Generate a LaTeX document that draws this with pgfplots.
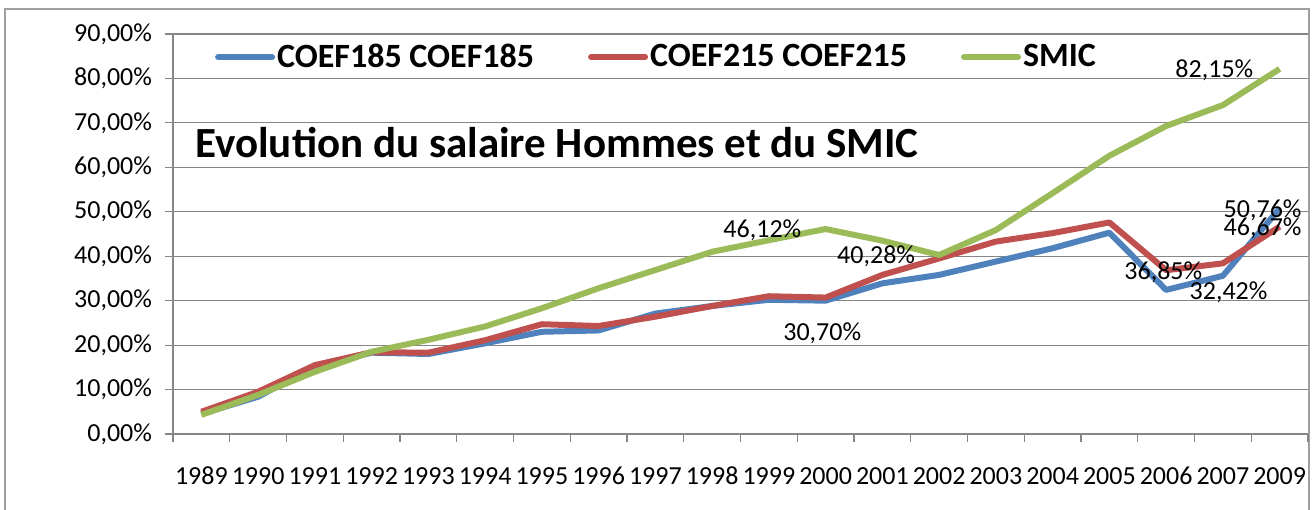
\documentclass[border=0pt]{standalone}
\usepackage{fontspec}
\setmainfont{Carlito}
\usepackage{pgfplots}
\pgfplotsset{compat=1.18}
\definecolor{cblue}{RGB}{79,129,189}
\definecolor{cred}{RGB}{192,80,77}
\definecolor{cgreen}{RGB}{155,187,89}
\definecolor{gridc}{RGB}{134,134,134}
\definecolor{framec}{RGB}{160,160,160}
\begin{document}
\begin{tikzpicture}
\useasboundingbox (0bp,0bp) rectangle (657bp,-255bp);
\draw[framec, line width=1bp] (2.5bp,-256bp) -- (2.5bp,-4.5bp) -- (654.5bp,-4.5bp) -- (654.5bp,-256bp);
\begin{axis}[
  at={(86.5bp,-217bp)}, anchor=south west,
  scale only axis, width=567.5bp, height=200bp,
  xmin=-0.5, xmax=19.5, ymin=0, ymax=90,
  clip=false,
  axis line style={gridc, line width=0.6bp},
  axis x line*=bottom, axis y line*=left,
  xtick={0,...,19},
  xticklabels={1989,1990,1991,1992,1993,1994,1995,1996,1997,1998,1999,2000,2001,2002,2003,2004,2005,2006,2007,2009},
  minor xtick={-0.5,0.5,...,19.5},
  major x tick style={draw=none},
  minor x tick style={gridc, line width=0.6bp},
  ytick={0,10,...,90},
  yticklabels={{0,00\%},{10,00\%},{20,00\%},{30,00\%},{40,00\%},{50,00\%},{60,00\%},{70,00\%},{80,00\%},{90,00\%}},
  ymajorgrids,
  grid style={gridc, line width=0.6bp},
  major y tick style={gridc, line width=0.6bp},
  tick align=outside,
  major tick length=4bp, minor tick length=4bp,
  tick label style={font=\fontsize{13bp}{15bp}\selectfont},
  yticklabel style={anchor=east, xshift=-3bp},
  xticklabel style={anchor=center, yshift=-17bp},
  legend columns=3,
  legend style={draw=none, fill=none, at={(rel axis cs:0.426,0.9425)}, anchor=center,
    font=\fontsize{17bp}{20bp}\selectfont\bfseries,
    /tikz/every even column/.append style={column sep=26bp},
    nodes={inner sep=1bp}},
  legend image code/.code={\draw[#1, line width=3bp, line cap=round] (0bp,0bp) -- (27bp,0bp);},
  every axis plot/.append style={line width=3bp, line join=round},
]
\addplot[cblue, mark=none] coordinates {
(0,4.5) (1,8.4) (2,15.2) (3,18.3) (4,18.0) (5,20.4) (6,23.0) (7,23.3) (8,27.1) (9,28.8)
(10,30.2) (11,30.0) (12,33.9) (13,35.8) (14,38.8) (15,41.8) (16,45.3) (17,32.42) (18,35.6) (19,50.76)};
\addlegendentry{COEF185 COEF185}
\addplot[cred, mark=none] coordinates {
(0,5.0) (1,9.5) (2,15.5) (3,18.4) (4,18.3) (5,21.1) (6,24.7) (7,24.3) (8,26.4) (9,28.8)
(10,31.0) (11,30.70) (12,35.8) (13,39.5) (14,43.3) (15,45.2) (16,47.6) (17,36.85) (18,38.4) (19,46.67)};
\addlegendentry{COEF215 COEF215}
\addplot[cgreen, mark=none] coordinates {
(0,4.3) (1,8.8) (2,14.0) (3,18.5) (4,21.2) (5,24.2) (6,28.3) (7,32.8) (8,36.9) (9,41.0)
(10,43.6) (11,46.12) (12,43.5) (13,40.28) (14,45.9) (15,54.2) (16,62.6) (17,69.3) (18,74.0) (19,82.15)};
\addlegendentry{SMIC}
\begin{scope}[every node/.style={font=\fontsize{13bp}{15bp}\selectfont, inner sep=0pt}]
\node at (axis cs:9.885,45.9) {46,12\%};
\node at (axis cs:11.89,40.05) {40,28\%};
\node at (axis cs:10.94,22.7) {30,70\%};
\node at (axis cs:16.95,36.45) {36,85\%};
\node at (axis cs:18.1,31.95) {32,42\%};
\node at (axis cs:17.85,81.9) {82,15\%};
\node at (axis cs:18.7,50.4) {50,76\%};
\node at (axis cs:18.7,46.35) {46,67\%};
\end{scope}
\node[anchor=west, inner sep=0pt, font=\fontsize{21.5bp}{24bp}\selectfont\bfseries] at (rel axis cs:0.0194,0.7275) {Evolution du salaire Hommes et du SMIC};
\end{axis}
\end{tikzpicture}
\end{document}
